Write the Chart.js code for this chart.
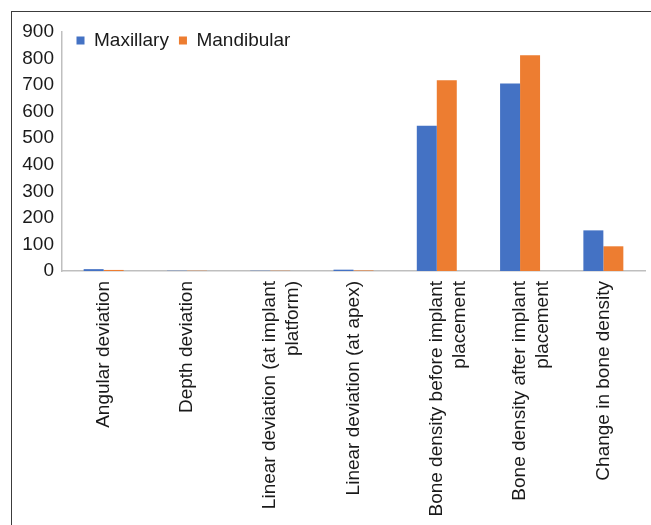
<!DOCTYPE html>
<html>
<head>
<meta charset="utf-8">
<script src="https://cdn.jsdelivr.net/npm/chart.js@4/dist/chart.umd.min.js"></script>
<style>
    body { margin: 0; background: #fff; }
    #wrap { position: relative; width: 651px; height: 525px; overflow: hidden; }
    #frame {
        position: absolute; left: 11px; top: 11px; width: 700px; height: 600px;
        border-left: 1.5px solid #3c3c3c; border-top: 1.5px solid #3c3c3c;
    }
    #myChart { position: absolute; left: 0; top: 0; }
</style>
</head>
<body>
<div id="wrap">
    <div id="frame"></div>
    <canvas id="myChart" width="651" height="525"></canvas>
</div>
<script>
// categorias (eixo x)
const categories = [
    'Angular deviation',
    'Depth deviation',
    ['Linear deviation (at implant', 'platform)'],
    'Linear deviation (at apex)',
    ['Bone density before implant', 'placement'],
    ['Bone density after implant', 'placement'],
    'Change in bone density'
];

// valores
const maxillary = [7, 1, 1, 5, 547, 706, 153];
const mandibular = [4, 1, 1, 2, 718, 812, 93];

// eixo y
const yMin = 0;
const yMax = 900;
const yStep = 100;

const fontFamily = '"Liberation Sans", Arial, sans-serif';

// legenda horizontal dentro da area do grafico
const legendNudge = {
    id: 'legendNudge',
    afterInit(chart) {
        chart.legend.isHorizontal = () => true;
    },
    afterLayout(chart) {
        chart.legend.left = chart.chartArea.left + 4.5;
        chart.legend.top = chart.chartArea.top - 11;
    }
};

const ctx = document.getElementById('myChart').getContext('2d');

new Chart(ctx, {
    type: 'bar',
    data: {
        labels: categories,
        datasets: [{
            label: 'Maxillary',
            data: maxillary,
            backgroundColor: '#4472C4',
            categoryPercentage: 0.48,
            barPercentage: 1
        }, {
            label: 'Mandibular',
            data: mandibular,
            backgroundColor: '#ED7D31',
            categoryPercentage: 0.48,
            barPercentage: 1
        }]
    },
    plugins: [legendNudge],
    options: {
        responsive: false,
        animation: false,
        layout: { padding: { left: 0, top: 32, right: 6, bottom: 0 } },
        plugins: {
            tooltip: { enabled: false },
            legend: {
                position: 'chartArea',
                align: 'start',
                labels: {
                    boxWidth: 8,
                    boxHeight: 8,
                    padding: 10,
                    color: '#1a1a1a',
                    font: { family: fontFamily, size: 19 }
                }
            }
        },
        scales: {
            x: {
                grid: { display: false, drawTicks: false },
                border: { display: true, color: '#bfbfbf', width: 1.5 },
                ticks: {
                    minRotation: 90,
                    maxRotation: 90,
                    autoSkip: false,
                    padding: 10,
                    color: '#1a1a1a',
                    font: { family: fontFamily, size: 19, lineHeight: 1.2 }
                },
                afterFit(scale) { scale.height = 254; }
            },
            y: {
                min: yMin,
                max: yMax,
                grid: { display: false, drawTicks: false },
                border: { display: true, color: '#bfbfbf', width: 1.5 },
                ticks: {
                    stepSize: yStep,
                    padding: 8,
                    color: '#1a1a1a',
                    font: { family: fontFamily, size: 19 }
                },
                afterFit(scale) { scale.width = 62; }
            }
        }
    }
});
</script>
</body>
</html>
